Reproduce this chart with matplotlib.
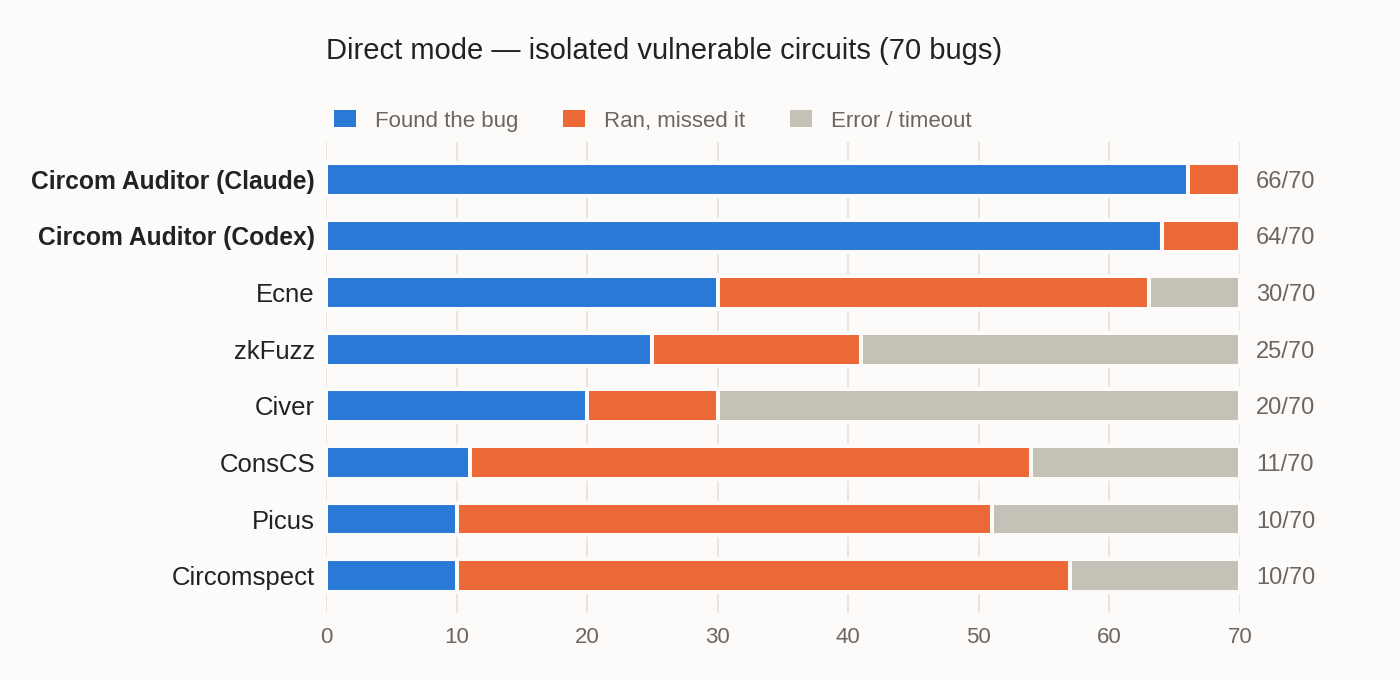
import matplotlib
matplotlib.use("Agg")
import matplotlib.pyplot as plt
from matplotlib.patches import Patch
import numpy as np

tools = ["Circom Auditor (Claude)", "Circom Auditor (Codex)", "Ecne", "zkFuzz",
         "Civer", "ConsCS", "Picus", "Circomspect"]
found = [66, 64, 30, 25, 20, 11, 10, 10]
missed = [4, 6, 33, 16, 10, 43, 41, 47]
errors = [0, 0, 7, 29, 40, 16, 19, 13]
total_bugs = 70
bold_tools = ["Circom Auditor (Claude)", "Circom Auditor (Codex)"]

series_names = ["Found the bug", "Ran, missed it", "Error / timeout"]
colors = ["#2a79d6", "#ec6836", "#c6c1b6"]

bg = "#fcfbfa"
plt.rcParams["font.family"] = ["Liberation Sans", "DejaVu Sans"]

fig = plt.figure(figsize=(14, 6.8), dpi=100, facecolor=bg)
ax = fig.add_axes([0.23286, 0.0985, 0.65286, 0.6927], facecolor=bg)

y = np.arange(len(tools))
left = np.zeros(len(tools))
for vals, c in zip([found, missed, errors], colors):
    v = np.array(vals, dtype=float)
    ax.barh(y, v, left=left, height=0.58, color=c, edgecolor=bg,
            linewidth=2.9, zorder=3)
    left += v

for yi, f in zip(y, found):
    ax.annotate(f"{f}/{total_bugs}", xy=(total_bugs, yi), xytext=(11.5, 0),
                textcoords="offset points", va="center_baseline", ha="left",
                fontsize=17, color="#6b6661")

ax.set_xlim(0, total_bugs)
ax.set_ylim(len(tools) - 1 + 0.66, -0.66)
ax.set_xticks(np.arange(0, 71, 10))
ax.set_yticks(y)
ax.set_yticklabels(tools)
ax.tick_params(axis="y", length=0, pad=8, labelsize=18.5, labelcolor="#222222")
ax.tick_params(axis="x", length=0, pad=10, labelsize=16, labelcolor="#6b6661")
for lab in ax.get_yticklabels():
    if lab.get_text() in bold_tools:
        lab.set_fontweight("bold")
        lab.set_fontsize(17.7)
ax.grid(axis="x", color="#ebe6dc", linewidth=1.5, zorder=0)
ax.set_axisbelow(True)
for s in ax.spines.values():
    s.set_visible(False)

fig.text(326 / 1400, 1 - 59 / 680, "Direct mode — isolated vulnerable circuits (70 bugs)",
         fontsize=21, color="#222222", va="baseline", ha="left")

handles = [Patch(facecolor=c, edgecolor="none", label=n) for c, n in zip(colors, series_names)]
fig.legend(handles=handles, loc="center left", bbox_to_anchor=(334 / 1400, 1 - 121 / 680),
           ncol=3, frameon=False, fontsize=16, labelcolor="#6b6661",
           handlelength=1.0, handleheight=0.8, handletextpad=0.85,
           columnspacing=2.0, borderpad=0, borderaxespad=0)

fig.savefig("out.png", dpi=100, facecolor=bg)
